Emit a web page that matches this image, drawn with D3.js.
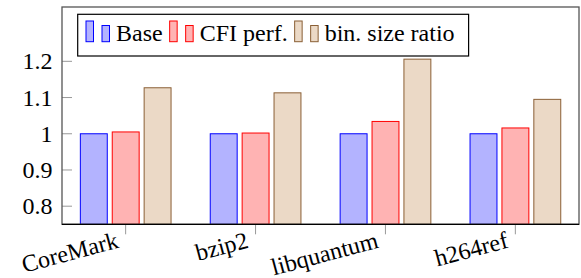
<!DOCTYPE html>
<html>
<head>
<meta charset="UTF-8">
<script src="https://cdn.jsdelivr.net/npm/d3@7"></script>
<style>
  body { margin: 0; background: #fff; }
</style>
</head>
<body>
<svg width="581" height="278" font-family="'Liberation Serif'" font-size="24"></svg>
<script>
// data
const categories = ["CoreMark", "bzip2", "libquantum", "h264ref"];
const seriesNames = ["Base", "CFI perf.", "bin. size ratio"];
const base = [1, 1, 1, 1];
const cfiPerf = [1.005, 1.002, 1.034, 1.016];
const binSize = [1.127, 1.113, 1.206, 1.095];
const yTicks = [0.8, 0.9, 1, 1.1, 1.2];

const fills = ["#b3b3ff", "#ffb3b3", "#ebd9c6"];
const strokes = ["#0000ff", "#ff0000", "#8a5f35"];
const allSeries = [base, cfiPerf, binSize];

const mLeft = 62, mRight = 579, mTop = 7, mBottom = 224.3;
const svg = d3.select("svg");
const serifFam = "Liberation Serif";

function setSerif(sel) {
  sel.attr("font-family", () => `'${serifFam}'`).attr("font-size", 24)
    .style("font-family", `'${serifFam}', 'Times New Roman'`).style("font-size", "24px");
}

const x = d3.scalePoint().domain(categories).range([mLeft, mRight]).padding(0.49);
const xs = d3.scaleBand().domain(d3.range(3)).range([-45.3, 45.4]).paddingInner(0.156).paddingOuter(0);
const y = d3.scaleLinear().domain([0.75, 1.35]).range([mBottom, mTop]);

// y ticks (inside) + labels
svg.selectAll(".ytick").data(yTicks).enter().append("line")
  .attr("x1", mLeft).attr("x2", mLeft + 10)
  .attr("y1", d => y(d)).attr("y2", d => y(d))
  .attr("stroke", "#999").attr("stroke-width", 1);
svg.selectAll(".ylab").data(yTicks).enter().append("text")
  .call(setSerif)
  .attr("x", mLeft - 9.5).attr("y", d => y(d)).attr("dy", "0.34em")
  .attr("text-anchor", "end")
  .text(d => String(d));

// x ticks below axis
svg.selectAll(".xtick").data(categories).enter().append("line")
  .attr("x1", d => x(d)).attr("x2", d => x(d))
  .attr("y1", mBottom).attr("y2", mBottom + 10)
  .attr("stroke", "#999").attr("stroke-width", 1);

// bars
allSeries.forEach((vals, s) => {
  svg.append("g").selectAll("rect").data(vals).enter().append("rect")
    .attr("x", (d, i) => x(categories[i]) + xs(s))
    .attr("width", xs.bandwidth())
    .attr("y", d => y(d))
    .attr("height", d => y(0.75) - y(d))
    .attr("fill", fills[s]).attr("stroke", strokes[s]).attr("stroke-width", 1);
});

// frame
svg.append("rect").attr("x", mLeft).attr("y", mTop)
  .attr("width", mRight - mLeft).attr("height", mBottom - mTop)
  .attr("fill", "none").attr("stroke", "#555").attr("stroke-width", 1.3);
svg.append("line").attr("x1", mLeft).attr("x2", mRight).attr("y1", mBottom).attr("y2", mBottom)
  .attr("stroke", "#000").attr("stroke-width", 1.3);

// x labels rotated
svg.selectAll(".xlab").data(categories).enter().append("text")
  .call(setSerif)
  .attr("text-anchor", "end")
  .attr("transform", d => `translate(${x(d) - 6},${mBottom + 23}) rotate(-15)`)
  .text(d => d);

// legend
const leg = svg.append("g");
const legBox = leg.append("rect").attr("fill", "#fff").attr("stroke", "#000").attr("stroke-width", 1.2);
let lx = 86;
const baseLine = 41.7;
seriesNames.forEach((name, s) => {
  leg.append("rect").attr("x", lx).attr("y", 21).attr("width", 7.5).attr("height", baseLine - 21)
    .attr("fill", fills[s]).attr("stroke", strokes[s]).attr("stroke-width", 1);
  leg.append("rect").attr("x", lx + 16).attr("y", 25.5).attr("width", 7.5).attr("height", baseLine - 25.5)
    .attr("fill", fills[s]).attr("stroke", strokes[s]).attr("stroke-width", 1);
  const t = leg.append("text").call(setSerif).attr("x", lx + 30).attr("y", 41).text(name);
  lx = lx + 30 + t.node().getComputedTextLength() + 7;
});
legBox.attr("x", 77.7).attr("y", 14.3).attr("width", lx - 7 + 14 - 77.7).attr("height", 41.7);
</script>
</body>
</html>
